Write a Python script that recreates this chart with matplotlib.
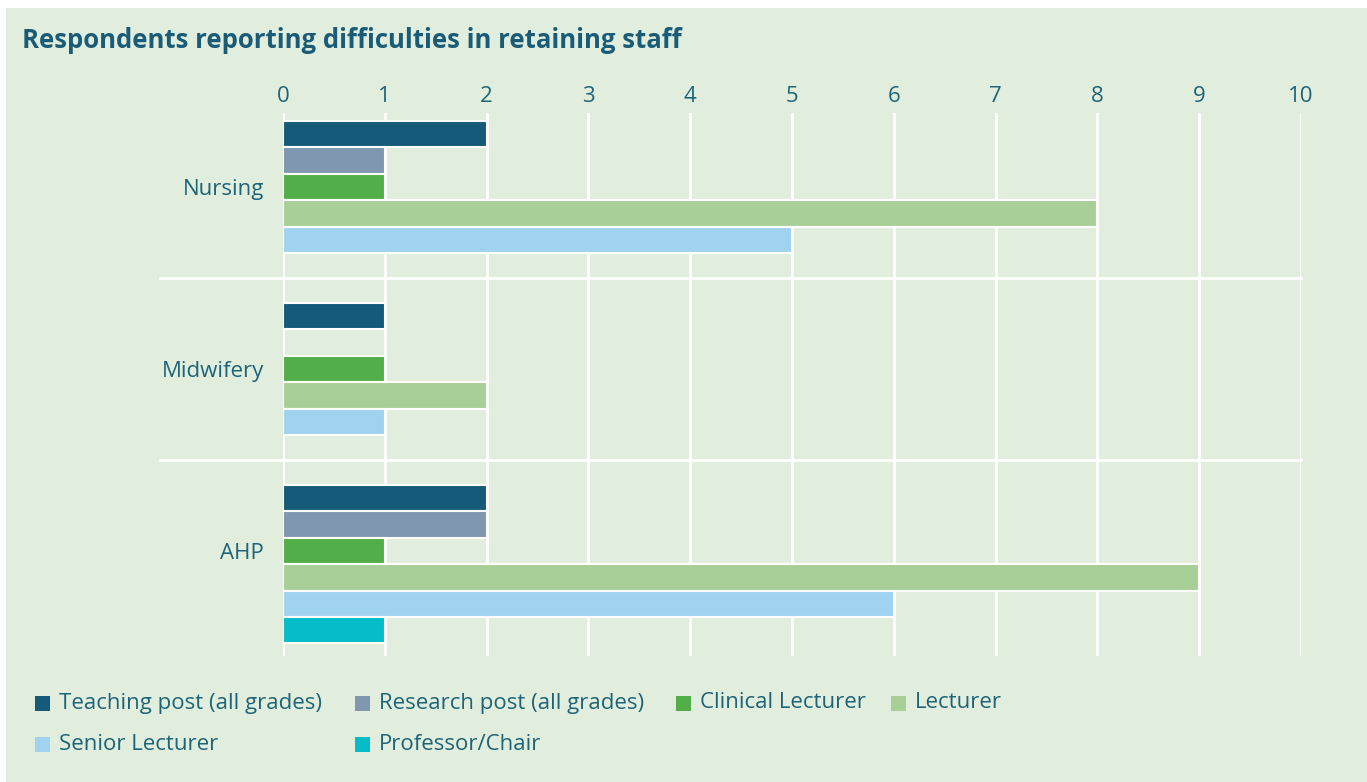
import matplotlib
matplotlib.use("Agg")
import matplotlib.pyplot as plt
from matplotlib.patches import Rectangle
from matplotlib.lines import Line2D

categories = ["Nursing", "Midwifery", "AHP"]
series = ["Teaching post (all grades)", "Research post (all grades)", "Clinical Lecturer",
          "Lecturer", "Senior Lecturer", "Professor/Chair"]
teaching = [2, 1, 2]
research = [1, 0, 2]
clinical = [1, 1, 1]
lecturer = [8, 2, 9]
senior = [5, 1, 6]
professor = [0, 0, 1]
values = [teaching, research, clinical, lecturer, senior, professor]
colors = ["#165A7A", "#7F98B0", "#52AE48", "#A9CF98", "#A0D3F0", "#05BCC8"]
xticks = list(range(0, 11))

BG = "#E2EEDD"
TXT = "#1D6478"
W, H = 1367, 782
fig = plt.figure(figsize=(W / 100, H / 100), dpi=100)
fig.patch.set_facecolor("white")
fig.patches.append(Rectangle((6 / W, 0), 1 - 6 / W, 1 - 8 / H, transform=fig.transFigure,
                             facecolor=BG, edgecolor="none", zorder=-10))
plt.rcParams["font.family"] = ["Open Sans", "DejaVu Sans"]

# axes in pixel coords
x0, x1 = 283, 1301
y_top, y_bot = 113, 656
ax = fig.add_axes([x0 / W, 1 - y_bot / H, (x1 - x0) / W, (y_bot - y_top) / H])
ax.set_facecolor("none")

pitch = 182.0
g0 = 96.0
ax.set_ylim((y_bot - g0) / pitch, (y_top - g0) / pitch)
ax.set_xlim(0, 10)

bh = 26.4 / pitch
off = 25.0 / pitch
for k, cat in enumerate(categories):
    for j, vals in enumerate(values):
        v = vals[k]
        if v == 0:
            continue
        y = k + off + j * bh + bh / 2
        ax.barh(y, v, height=bh, color=colors[j], edgecolor="white", linewidth=1.5, zorder=3)

for xt in xticks:
    ax.axvline(xt, color="white", linewidth=2, zorder=1)

for k in range(1, len(categories)):
    ax.add_line(Line2D([(160 - x0) / (x1 - x0), 1.0], [k, k], transform=ax.get_yaxis_transform(),
                       color="white", linewidth=2, clip_on=False, zorder=1))

ax.xaxis.tick_top()
ax.set_xticks(xticks)
ax.set_xticklabels([str(t) for t in xticks], fontsize=16, color=TXT)
ax.tick_params(axis="x", length=0, pad=4)
ax.set_yticks([k + 0.5 for k in range(len(categories))])
ax.set_yticklabels(categories, fontsize=16, color=TXT)
ax.tick_params(axis="y", length=0, pad=13.5)
for s in ax.spines.values():
    s.set_visible(False)

fig.text(22 / W, 1 - 40 / H, "Respondents reporting difficulties in retaining staff",
         fontsize=18.5, fontweight="bold", color="#1A5C78", va="center", ha="left")

# legend (manual, Excel-like layout)
leg_pos = [(35, 703), (355, 703), (676, 703), (891, 703), (35, 744), (355, 744)]
for (px, py), name, c in zip(leg_pos, series, colors):
    fig.patches.append(Rectangle((px / W, 1 - (py + 8) / H), 15 / W, 15 / H,
                                 transform=fig.transFigure, facecolor=c, edgecolor="none"))
    fig.text((px + 24) / W, 1 - py / H, name, fontsize=16, color=TXT, va="center", ha="left")

fig.savefig("out.png", dpi=100, facecolor=fig.get_facecolor())
